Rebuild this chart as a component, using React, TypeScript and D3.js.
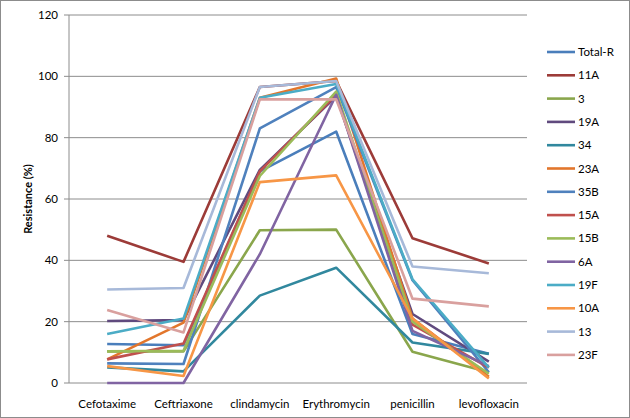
import React from "react";
import * as d3 from "d3";

const categories = ["Cefotaxime", "Ceftriaxone", "clindamycin", "Erythromycin", "penicillin", "levofloxacin"];
const seriesNames = ["Total-R", "11A", "3", "19A", "34", "23A", "35B", "15A", "15B", "6A", "19F", "10A", "13", "23F"];
const seriesColors = ["#4A7EBB", "#9C3B38", "#8AA64C", "#604A7E", "#31889E", "#E2762C", "#4F81BD", "#C0504D", "#9BBB59", "#8064A2", "#4BACC6", "#F79646", "#A7B9D9", "#D9A09E"];

const totalR = [12.7, 12.3, 69, 82, 16, 9.5];
const s11A = [48, 39.5, 96.5, 98.5, 47.2, 39];
const s3 = [10.3, 10.3, 49.8, 50, 10.2, 3.5];
const s19A = [20.2, 20.5, 69.5, 93.5, 22.5, 7];
const s34 = [5.1, 3.8, 28.5, 37.6, 13.2, 9.5];
const s23A = [7.7, 19.7, 93, 99.3, 21, 2];
const s35B = [6.4, 6.2, 83, 96.5, 33.5, 3.5];
const s15A = [7.7, 12.9, 69, 94, 19, 5];
const s15B = [10.3, 10.5, 67.5, 95, 20, 3];
const s6A = [0, 0, 42, 94, 17, 5.5];
const s19F = [16, 21, 93, 97.5, 33.8, 5];
const s10A = [5.5, 2.3, 65.5, 67.7, 21, 1.5];
const s13 = [30.5, 31, 96.5, 98.5, 38, 35.8];
const s23F = [23.8, 16.5, 92.5, 92.5, 27.5, 25];

const seriesValues = [totalR, s11A, s3, s19A, s34, s23A, s35B, s15A, s15B, s6A, s19F, s10A, s13, s23F];
const yTicks = [0, 20, 40, 60, 80, 100, 120];

export default function App() {
  const W = 630, H = 418;
  const left = 69, right = 527, top = 15, bottom = 383;
  const x = d3.scaleBand<string>().domain(categories).range([left, right]);
  const y = d3.scaleLinear().domain([0, 120]).range([bottom, top]);
  const line = d3.line<number>()
    .x((_, i) => (x(categories[i]) as number) + x.bandwidth() / 2)
    .y((d) => y(d));
  const font = "Lato, 'Liberation Sans', sans-serif";
  const legendY0 = 52, legendStep = 23.3;
  return (
    <svg width={W} height={H} style={{ position: "absolute", left: 0, top: 0, background: "#fff" }} fontFamily={font}>
      <rect x={0.5} y={0.5} width={W - 1} height={H - 1} fill="#fff" stroke="#8c8c8c" />
      {yTicks.map((t) => (
        <g key={t}>
          {t > 0 && <line x1={left} x2={right} y1={y(t)} y2={y(t)} stroke="#8c8c8c" strokeWidth={1} />}
          <line x1={left - 5} x2={left} y1={y(t)} y2={y(t)} stroke="#8c8c8c" />
          <text x={58} y={y(t)} dy="0.35em" textAnchor="end" fontSize={11.5} fill="#000">{t}</text>
        </g>
      ))}
      <line x1={left} x2={left} y1={top} y2={bottom} stroke="#8c8c8c" />
      <line x1={left} x2={right} y1={bottom} y2={bottom} stroke="#8c8c8c" />
      {categories.map((c) => (
        <text key={c} x={(x(c) as number) + x.bandwidth() / 2} y={404} dy="0.35em" textAnchor="middle" fontSize={11.5} fill="#000">{c}</text>
      ))}
      <text transform={`translate(28,${(top + bottom) / 2}) rotate(-90)`} textAnchor="middle" dy="0.35em" fontSize={11} fontWeight="bold" fill="#000">Resistance (%)</text>
      {seriesValues.map((vals, i) => (
        <path key={seriesNames[i]} d={line(vals) || ""} fill="none" stroke={seriesColors[i]} strokeWidth={2.6} strokeLinejoin="round" />
      ))}
      {seriesNames.map((n, i) => (
        <g key={n}>
          <line x1={547} x2={575} y1={legendY0 + i * legendStep} y2={legendY0 + i * legendStep} stroke={seriesColors[i]} strokeWidth={2.6} />
          <text x={578} y={legendY0 + i * legendStep} dy="0.35em" fontSize={11.5} fill="#000">{n}</text>
        </g>
      ))}
    </svg>
  );
}
